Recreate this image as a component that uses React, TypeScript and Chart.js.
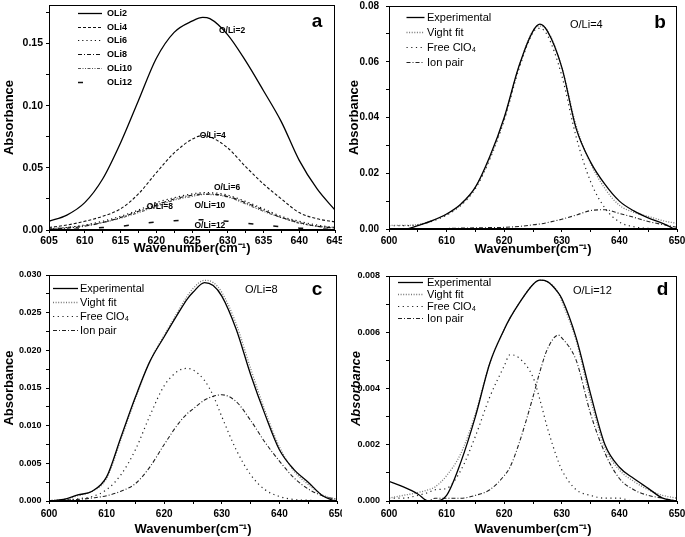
import React, { useEffect, useRef } from 'react';
import { Chart, registerables } from 'chart.js';
Chart.register(...registerables);

// ---------- data ----------
const waveA = [605, 607.5, 610, 612.5, 615, 617.5, 620, 622.5, 625, 626.5, 627.5, 630, 632.5, 635, 637.5, 640, 642.5, 645];
const oli2 = [0.007, 0.012, 0.022, 0.041, 0.070, 0.104, 0.138, 0.159, 0.168, 0.171, 0.170, 0.157, 0.136, 0.112, 0.087, 0.056, 0.033, 0.016];
const oli4 = [0.002, 0.004, 0.007, 0.011, 0.017, 0.029, 0.046, 0.062, 0.073, 0.076, 0.075, 0.066, 0.051, 0.037, 0.025, 0.014, 0.009, 0.0065];
const oli6 = [0.001, 0.002, 0.004, 0.007, 0.011, 0.016, 0.022, 0.026, 0.029, 0.030, 0.030, 0.028, 0.023, 0.017, 0.011, 0.007, 0.004, 0.002];
const oli8 = [0.0005, 0.0015, 0.003, 0.006, 0.010, 0.015, 0.020, 0.025, 0.028, 0.029, 0.029, 0.027, 0.022, 0.016, 0.010, 0.006, 0.003, 0.0015];
const oli10 = [0.001, 0.002, 0.0035, 0.006, 0.0095, 0.014, 0.019, 0.024, 0.027, 0.0285, 0.0285, 0.0265, 0.021, 0.015, 0.010, 0.0055, 0.003, 0.002];
const oli12 = [0, 0.0005, 0.001, 0.002, 0.003, 0.0048, 0.0065, 0.0075, 0.008, 0.0082, 0.008, 0.007, 0.0055, 0.004, 0.0025, 0.0015, 0.001, 0.0005];

const waveB = [600, 602.5, 605, 607.5, 610, 612.5, 615, 617.5, 620, 622.5, 625, 626.2, 627.5, 630, 632.5, 635, 637.5, 640, 642.5, 645, 647.5, 650];
const expB = [-0.001, -0.0004, 0.0012, 0.003, 0.0054, 0.009, 0.015, 0.026, 0.040, 0.058, 0.071, 0.0735, 0.071, 0.058, 0.036, 0.024, 0.016, 0.010, 0.0065, 0.004, 0.002, -0.0005];
const vightB = [0.0013, 0.0013, 0.0016, 0.003, 0.0052, 0.0088, 0.015, 0.0255, 0.0395, 0.0578, 0.0712, 0.0728, 0.0712, 0.058, 0.037, 0.0235, 0.0145, 0.0085, 0.006, 0.0045, 0.003, 0.002];
const freeB = [0.0012, 0.0012, 0.0015, 0.0028, 0.005, 0.0085, 0.0145, 0.025, 0.039, 0.057, 0.0705, 0.072, 0.0695, 0.055, 0.033, 0.017, 0.0075, 0.0025, 0.0008, 0.0002, 0.0001, 0];
const ionB = [0, 0, 0, 0.0001, 0.0002, 0.0003, 0.0004, 0.0005, 0.0006, 0.0009, 0.0015, 0.0018, 0.0023, 0.0035, 0.005, 0.0066, 0.0069, 0.0056, 0.0042, 0.0027, 0.0016, 0.0006];

const waveC = [600, 602.5, 605, 607.5, 610, 612.5, 615, 617.5, 620, 622.5, 624, 625, 627, 628.5, 630, 632.5, 635, 637.5, 640, 642.5, 645, 647.5, 650];
const expC = [0, 0.0002, 0.0008, 0.0013, 0.0032, 0.0085, 0.0138, 0.0185, 0.0218, 0.0250, 0.0268, 0.0277, 0.0290, 0.0286, 0.0272, 0.0228, 0.0168, 0.0115, 0.0068, 0.0042, 0.0025, 0.0007, -0.0001];
const vightC = [0.0001, 0.0002, 0.0007, 0.0013, 0.0030, 0.0082, 0.0136, 0.0185, 0.0220, 0.0253, 0.0272, 0.0282, 0.0293, 0.0290, 0.0277, 0.0235, 0.0176, 0.012, 0.0072, 0.004, 0.0022, 0.0008, 0.0002];
const freeC = [0, 0.0001, 0.0003, 0.0006, 0.0015, 0.0035, 0.0068, 0.0113, 0.0153, 0.0173, 0.0176, 0.0174, 0.0160, 0.0140, 0.0112, 0.0068, 0.0035, 0.0015, 0.0006, 0.0002, 0.0001, 0, 0];
const ionC = [0, 0.0001, 0.0002, 0.0004, 0.0007, 0.0013, 0.0023, 0.0045, 0.0075, 0.0103, 0.0116, 0.0122, 0.0134, 0.0139, 0.0141, 0.0132, 0.0107, 0.0078, 0.0053, 0.0031, 0.0016, 0.0007, 0.0002];

const waveD = [600, 602.5, 605, 606.8, 608, 610, 612.5, 615, 617.5, 620, 621, 622.5, 625, 626.2, 627.5, 629.4, 630, 632.5, 635, 637.5, 640, 642.5, 645, 647.5, 650];
const expD = [0.0007, 0.0005, 0.00025, 0, 0, 0.0002, 0.0014, 0.003, 0.0049, 0.0061, 0.0065, 0.0070, 0.0077, 0.00785, 0.0078, 0.0074, 0.0072, 0.0058, 0.0038, 0.0020, 0.0012, 0.0008, 0.00045, 0.0001, 0];
const vightD = [0.0001, 0.0002, 0.0003, 0.0004, 0.0005, 0.0009, 0.0017, 0.0031, 0.0049, 0.0061, 0.0065, 0.0070, 0.0077, 0.00785, 0.0078, 0.0074, 0.0071, 0.0057, 0.0036, 0.0019, 0.0011, 0.0007, 0.0004, 0.0002, 0.0001];
const freeD = [0.0001, 0.0001, 0.0002, 0.0003, 0.0004, 0.00045, 0.0011, 0.0023, 0.0037, 0.0048, 0.0052, 0.0051, 0.0044, 0.0036, 0.0026, 0.0014, 0.0011, 0.0004, 0.0002, 0.0001, 0.0001, 0, 0, 0, 0];
const ionD = [0, 0, 0, 0, 0.0001, 0.0001, 0.0001, 0.0002, 0.0004, 0.0009, 0.0012, 0.002, 0.0037, 0.0046, 0.0054, 0.0059, 0.0058, 0.005, 0.0031, 0.0017, 0.0008, 0.0004, 0.0002, 0.0001, 0];

const labelsA = ['OLi2', 'OLi4', 'OLi6', 'OLi8', 'OLi10', 'OLi12'];
const labelsFit = ['Experimental', 'Vight fit', 'Free ClO\u2084', 'Ion pair'];
const notesA = [
  { text: 'O/Li=2', x: 630.6, y: 0.160 },
  { text: 'O/Li=4', x: 627.9, y: 0.076 },
  { text: 'O/Li=6', x: 629.9, y: 0.0337 },
  { text: 'O/Li=8', x: 620.5, y: 0.0185 },
  { text: 'O/Li=10', x: 627.5, y: 0.0193 },
  { text: 'O/Li=12', x: 627.5, y: 0.0032 },
];
const xTitle = 'Wavenumber(cm\u207B\u00B9)';
const yTitle = 'Absorbance';

const FAM = '"Liberation Sans", Arial, sans-serif';

// ---------- styles ----------
const styleA = [
  { color: '#000', width: 1.3, dash: [] },
  { color: '#111', width: 1.1, dash: [3, 2] },
  { color: '#111', width: 1.2, dash: [1.2, 3] },
  { color: '#111', width: 1.1, dash: [4, 2, 1, 2] },
  { color: '#555', width: 1.1, dash: [3, 1.5, 1, 1.5, 1, 1.5] },
  { color: '#111', width: 1.5, dash: [5, 20] },
];
const styleFit = [
  { color: '#000', width: 1.3, dash: [] },
  { color: '#777', width: 1.3, dash: [1, 1.6] },
  { color: '#222', width: 1.2, dash: [1.2, 3.5] },
  { color: '#222', width: 1.1, dash: [4, 2, 1, 2] },
];

const decoPlugin = {
  id: 'deco',
  afterDraw(chart: any, _args: any, opts: any) {
    const { ctx, chartArea: ca } = chart;
    ctx.save();
    ctx.strokeStyle = '#000';
    ctx.lineWidth = 1;
    ctx.setLineDash([]);
    const l = Math.round(ca.left) + 0.5, t = Math.round(ca.top) + 0.5;
    const r = Math.round(ca.right) - 0.5, b = Math.round(ca.bottom) - 0.5;
    ctx.strokeRect(l, t, r - l, b - t);
    const lg = opts.legend;
    if (lg) {
      chart.data.datasets.forEach((ds: any, i: number) => {
        const y = Math.round(ca.top + lg.y0 + i * lg.step) + 0.5;
        ctx.beginPath();
        ctx.setLineDash(ds.borderDash || []);
        ctx.strokeStyle = ds.borderColor;
        ctx.lineWidth = ds.borderWidth;
        ctx.moveTo(ca.left + lg.x0, y);
        ctx.lineTo(ca.left + lg.x1, y);
        ctx.stroke();
        ctx.setLineDash([]);
        ctx.fillStyle = '#000';
        ctx.font = lg.font;
        ctx.textBaseline = 'middle';
        ctx.textAlign = 'left';
        ctx.fillText(ds.label, ca.left + lg.tx, y);
      });
    }
    if (opts.letter) {
      ctx.fillStyle = '#000';
      ctx.font = 'bold 19px ' + FAM;
      ctx.textAlign = 'center';
      ctx.textBaseline = 'alphabetic';
      ctx.fillText(opts.letter.text, ca.right + opts.letter.dx, ca.top + opts.letter.dy);
    }
    if (opts.tag) {
      ctx.fillStyle = '#000';
      ctx.font = '11px ' + FAM;
      ctx.textAlign = 'left';
      ctx.textBaseline = 'alphabetic';
      ctx.fillText(opts.tag.text, ca.left + opts.tag.dx, ca.top + opts.tag.dy);
    }
    if (opts.notes) {
      const xs = chart.scales.x, ys = chart.scales.y;
      ctx.fillStyle = '#000';
      ctx.font = 'bold 8.5px ' + FAM;
      ctx.textAlign = 'center';
      ctx.textBaseline = 'middle';
      opts.notes.forEach((n: any) => {
        ctx.fillText(n.text, xs.getPixelForValue(n.x), ys.getPixelForValue(n.y));
      });
    }
    ctx.restore();
  },
};

type Panel = {
  left: number; top: number; w: number; h: number;
  pad: { top: number; right: number };
  yW: number; xH: number;
  xMin: number; xMax: number; xMajor: number; xMinor: number;
  yMin: number; yMax: number; yMajor: number; yMinor: number; dec: number;
  xTickPad: number; yTickPad: number; xTitlePad: number; yTitlePad: number;
  yTickSize: number; xTickSize: number; yItalic?: boolean;
  wave: number[]; series: number[][]; labels: string[]; styles: any[];
  deco: any;
};

const isMult = (v: number, step: number) => Math.abs(v / step - Math.round(v / step)) < 1e-6;

function buildChart(canvas: HTMLCanvasElement, p: Panel) {
  const datasets = p.series.map((ys, i) => ({
    label: p.labels[i],
    data: p.wave.map((x, j) => ({ x, y: ys[j] })),
    borderColor: p.styles[i].color,
    borderWidth: p.styles[i].width,
    borderDash: p.styles[i].dash,
    pointRadius: 0,
    fill: false,
    cubicInterpolationMode: 'monotone' as const,
  }));
  return new Chart(canvas, {
    type: 'line',
    data: { datasets },
    plugins: [decoPlugin],
    options: {
      animation: false,
      responsive: false,
      devicePixelRatio: 1,
      layout: { padding: { left: 0, bottom: 0, top: p.pad.top, right: p.pad.right } },
      plugins: {
        legend: { display: false },
        tooltip: { enabled: false },
        deco: p.deco,
      } as any,
      scales: {
        x: {
          type: 'linear',
          min: p.xMin,
          max: p.xMax,
          afterBuildTicks: (s: any) => {
            const t: any[] = [];
            for (let v = p.xMin; v <= p.xMax + 1e-9; v += p.xMinor) t.push({ value: +v.toFixed(6) });
            s.ticks = t;
          },
          afterFit: (s: any) => { s.height = p.xH; s.paddingLeft = 0; s.paddingRight = 0; },
          ticks: {
            autoSkip: false,
            maxRotation: 0,
            padding: p.xTickPad,
            color: '#000',
            font: { family: FAM, size: p.xTickSize, weight: 'bold' },
            callback: (v: any) => (isMult(Number(v), p.xMajor) ? String(Math.round(Number(v))) : ''),
          },
          grid: { drawOnChartArea: false, drawTicks: true, tickLength: 3, color: '#000' },
          border: { display: true, color: '#000', width: 1 },
          title: {
            display: true, text: xTitle, color: '#000',
            font: { family: FAM, size: 13, weight: 'bold' },
            padding: { top: 0, bottom: p.xTitlePad },
          },
        },
        y: {
          type: 'linear',
          min: p.yMin,
          max: p.yMax,
          afterBuildTicks: (s: any) => {
            const t: any[] = [];
            for (let v = p.yMin; v <= p.yMax + 1e-9; v += p.yMinor) t.push({ value: +v.toFixed(6) });
            s.ticks = t;
          },
          afterFit: (s: any) => { s.width = p.yW; s.paddingTop = 0; s.paddingBottom = 0; },
          ticks: {
            autoSkip: false,
            padding: p.yTickPad,
            color: '#000',
            font: { family: FAM, size: p.yTickSize, weight: 'bold' },
            callback: (v: any) => (isMult(Number(v), p.yMajor) ? Number(v).toFixed(p.dec) : ''),
          },
          grid: { drawOnChartArea: false, drawTicks: true, tickLength: 3, color: '#000' },
          border: { display: true, color: '#000', width: 1 },
          title: {
            display: true, text: yTitle, color: '#000',
            font: { family: FAM, size: 13, weight: 'bold', style: p.yItalic ? 'italic' : 'normal' },
            padding: { top: p.yTitlePad, bottom: 0 },
          },
        },
      },
    } as any,
  });
}

const panels: Panel[] = [
  {
    left: 0, top: 0, w: 342, h: 265, pad: { top: 5, right: 7 }, yW: 49, xH: 35,
    xMin: 605, xMax: 645, xMajor: 5, xMinor: 2.5,
    yMin: 0, yMax: 0.181, yMajor: 0.05, yMinor: 0.025, dec: 2,
    xTickPad: 2, yTickPad: 3, xTitlePad: 9, yTitlePad: 2, yTickSize: 10.5, xTickSize: 10.5,
    wave: waveA, series: [oli2, oli4, oli6, oli8, oli10, oli12], labels: labelsA, styles: styleA,
    deco: {
      legend: { x0: 29, x1: 53, tx: 58, y0: 7.7, step: 13.8, font: 'bold 9px ' + FAM },
      letter: { text: 'a', dx: -18, dy: 21.7 },
      notes: notesA,
    },
  },
  {
    left: 342, top: 0, w: 343, h: 265, pad: { top: 6, right: 8 }, yW: 47, xH: 36,
    xMin: 600, xMax: 650, xMajor: 10, xMinor: 5,
    yMin: 0, yMax: 0.08, yMajor: 0.02, yMinor: 0.01, dec: 2,
    xTickPad: 3, yTickPad: 7, xTitlePad: 8, yTitlePad: 5, yTickSize: 10, xTickSize: 10,
    wave: waveB, series: [expB, vightB, freeB, ionB], labels: labelsFit, styles: styleFit,
    deco: {
      legend: { x0: 17.5, x1: 35.5, tx: 38, y0: 10.7, step: 15, font: '11px ' + FAM },
      letter: { text: 'b', dx: -17, dy: 22.3 },
      tag: { text: 'O/Li=4', dx: 181, dy: 22.3 },
    },
  },
  {
    left: 0, top: 265, w: 342, h: 272, pad: { top: 10, right: 5 }, yW: 49, xH: 36,
    xMin: 600, xMax: 650, xMajor: 10, xMinor: 5,
    yMin: 0, yMax: 0.03, yMajor: 0.005, yMinor: 0.0025, dec: 3,
    xTickPad: 4, yTickPad: 4.5, xTitlePad: 0, yTitlePad: 2, yTickSize: 9, xTickSize: 10,
    wave: waveC, series: [expC, vightC, freeC, ionC], labels: labelsFit, styles: styleFit,
    deco: {
      legend: { x0: 4, x1: 29, tx: 31, y0: 12.7, step: 14, font: '11px ' + FAM },
      letter: { text: 'c', dx: -20, dy: 20 },
      tag: { text: 'O/Li=8', dx: 196, dy: 18.3 },
    },
  },
  {
    left: 342, top: 265, w: 343, h: 272, pad: { top: 11, right: 8 }, yW: 47, xH: 36,
    xMin: 600, xMax: 650, xMajor: 10, xMinor: 5,
    yMin: 0, yMax: 0.008, yMajor: 0.002, yMinor: 0.001, dec: 3,
    xTickPad: 4, yTickPad: 6, xTitlePad: 0, yTitlePad: 7, yTickSize: 9, xTickSize: 10, yItalic: true,
    wave: waveD, series: [expD, vightD, freeD, ionD], labels: labelsFit, styles: styleFit,
    deco: {
      legend: { x0: 9, x1: 34, tx: 38, y0: 6, step: 11.9, font: '11px ' + FAM },
      letter: { text: 'd', dx: -14.5, dy: 19.3 },
      tag: { text: 'O/Li=12', dx: 184, dy: 17.6 },
    },
  },
];

function PanelChart({ p }: { p: Panel }) {
  const ref = useRef<HTMLCanvasElement | null>(null);
  useEffect(() => {
    if (!ref.current) return;
    const c = buildChart(ref.current, p);
    return () => c.destroy();
  }, [p]);
  return (
    <canvas
      ref={ref}
      width={p.w}
      height={p.h}
      style={{ position: 'absolute', left: p.left, top: p.top, width: p.w, height: p.h }}
    />
  );
}

export default function App() {
  return (
    <div style={{ position: 'absolute', left: 0, top: 0, width: 685, height: 537, background: '#fff', overflow: 'hidden' }}>
      {panels.map((p, i) => (
        <PanelChart key={i} p={p} />
      ))}
    </div>
  );
}
